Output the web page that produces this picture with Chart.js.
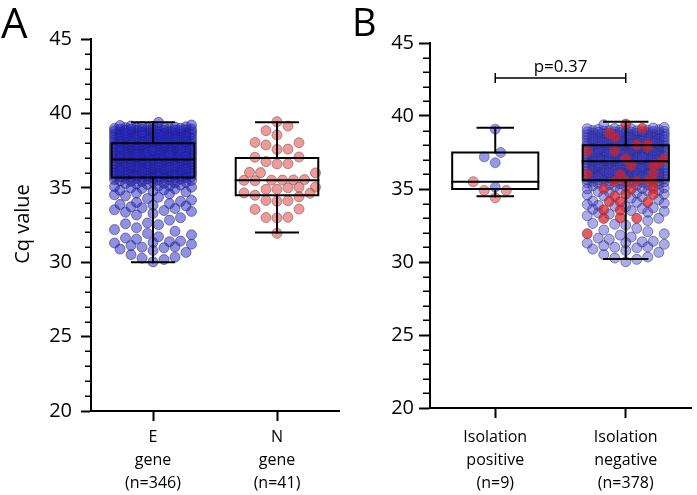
<!DOCTYPE html>
<html>
<head>
<meta charset="utf-8">
<script src="https://cdn.jsdelivr.net/npm/chart.js@4"></script>
<style>
  html, body { margin: 0; padding: 0; background: #fff; }
  #wrap { position: relative; width: 697px; height: 495px; overflow: hidden; }
  #panelA { position: absolute; left: 0; top: 0; width: 345px; height: 495px; }
  #panelB { position: absolute; left: 345px; top: 0; width: 352px; height: 495px; }
</style>
</head>
<body>
<div id="wrap">
  <canvas id="panelA" width="345" height="495"></canvas>
  <canvas id="panelB" width="352" height="495"></canvas>
</div>
<script>
const FONT = "'Open Sans', 'DejaVu Sans', sans-serif";

// Cq values, E gene (n=346)
const geneE = [
  30.02, 30.18, 30.27, 30.34, 30.51, 30.66, 30.79, 30.88, 30.97, 31.01, 31.04, 31.12,
  31.21, 31.29, 31.33, 31.38, 31.42, 31.55, 31.63, 31.71, 31.84, 31.93,
  32.08, 32.19, 32.31, 32.52, 32.58, 32.64, 32.83, 32.99,
  33.17, 33.28, 33.36, 33.41, 33.47, 33.52, 33.61, 33.66, 33.72, 33.78, 33.83, 33.88, 33.94, 34.02,
  34.09, 34.17, 34.28, 34.37, 34.46, 34.53, 34.59, 34.64, 34.72, 34.78, 34.83, 34.87, 34.92, 34.96, 35.01, 35.04,
  35.08, 35.12, 35.15, 35.19, 35.22, 35.26, 35.29, 35.31, 35.34, 35.37, 35.39, 35.42, 35.44, 35.47,
  35.49, 35.51, 35.53, 35.56, 35.58, 35.60, 35.62, 35.64, 35.66, 35.67, 35.69, 35.70, 35.71,
  35.73, 35.75, 35.78, 35.78, 35.81, 35.84, 35.85, 35.89, 35.90, 35.92,
  35.97, 35.98, 36.01, 36.03, 36.06, 36.06, 36.09, 36.12, 36.14, 36.15,
  36.18, 36.23, 36.24, 36.26, 36.29, 36.30, 36.35, 36.37, 36.39, 36.40,
  36.44, 36.46, 36.48, 36.51, 36.54, 36.55, 36.58, 36.60, 36.64, 36.67,
  36.70, 36.71, 36.75, 36.78, 36.80, 36.83, 36.86, 36.89, 35.74, 35.80,
  35.87, 35.94, 36.00, 36.08, 36.16, 36.21, 36.32, 36.41, 36.50, 36.62,
  36.73, 36.85, 35.77, 35.83, 35.96, 36.04, 36.11, 36.19, 36.27, 36.34,
  36.43, 36.53, 36.59, 36.69, 36.77, 36.88, 35.86, 35.99, 36.13, 36.25,
  36.38, 36.47, 36.57, 36.66, 36.74, 36.82,
  36.91, 36.92, 36.95, 36.97, 37.00, 37.02, 37.05, 37.06, 37.09, 37.13,
  37.14, 37.17, 37.20, 37.22, 37.25, 37.27, 37.29, 37.33, 37.35, 37.36,
  37.40, 37.43, 37.44, 37.47, 37.50, 37.52, 37.55, 37.58, 37.59, 37.63,
  37.65, 37.68, 37.71, 37.72, 37.76, 37.78, 37.81, 37.84, 37.86, 37.89,
  37.91, 37.94, 37.96, 37.99, 36.93, 36.99, 37.04, 37.11, 37.18, 37.24,
  37.31, 37.38, 37.45, 37.53, 37.61, 37.67, 37.74, 37.80, 37.87, 37.93,
  37.98, 36.94, 37.01, 37.08, 37.15, 37.21, 37.28, 37.34, 37.41, 37.48,
  37.56, 37.62, 37.70, 37.77, 37.83, 37.90, 37.97, 36.96, 37.10, 37.23,
  37.37, 37.49, 37.60, 37.73, 37.85, 37.95, 37.19,
  38.02, 38.04, 38.07, 38.10, 38.12, 38.15, 38.18, 38.21, 38.24, 38.26,
  38.29, 38.32, 38.35, 38.37, 38.40, 38.43, 38.46, 38.48, 38.51, 38.54,
  38.57, 38.59, 38.62, 38.65, 38.68, 38.70, 38.73, 38.76, 38.79, 38.81,
  38.84, 38.87, 38.90, 38.92, 38.95, 38.98, 39.01, 39.04, 39.08, 39.12,
  38.05, 38.13, 38.19, 38.27, 38.33, 38.41, 38.49, 38.55, 38.63, 38.71,
  38.77, 38.85, 38.91, 38.97, 39.03, 39.10, 38.09, 38.16, 38.23, 38.31,
  38.38, 38.45, 38.53, 38.60, 38.67, 38.74, 38.82, 38.88, 38.94, 39.00,
  39.06, 39.15, 38.11, 38.28, 38.44, 38.58, 38.72, 38.86, 38.99, 39.18,
  39.22, 38.34, 38.66, 38.93, 39.13, 39.40
];

// Cq values, N gene (n=41)
const geneN = [
  39.44, 38.84, 39.15, 38.55, 38.03, 37.88, 38.05, 37.58, 37.60, 37.05,
  37.07, 36.76, 36.60, 36.62, 36.02, 36.00, 36.04, 35.52, 35.50, 35.55,
  35.48, 35.53, 35.51, 35.03, 34.90, 35.05, 34.90, 35.00, 34.63, 34.50,
  34.65, 34.40, 34.13, 34.10, 34.15, 33.55, 33.57, 33.00, 33.02, 32.98,
  31.94
];

// samples with a positive isolation (n=9), split by gene
const isoPosE = [39.10, 37.50, 37.20, 36.80, 35.12];
const isoPosN = [35.50, 34.90, 34.90, 34.40];

const labelsA = [["E", "gene", "(n=346)"], ["N", "gene", "(n=41)"]];
const labelsB = [["Isolation", "positive", "(n=9)"], ["Isolation", "negative", "(n=378)"]];
const yTicks = [20, 25, 30, 35, 40, 45];

// box plot summaries
const boxMinA = [30.0, 32.0];
const boxQ1A  = [35.7, 34.5];
const boxMedA = [36.9, 35.5];
const boxQ3A  = [38.0, 37.0];
const boxMaxA = [39.4, 39.4];

const boxMinB = [34.5, 30.2];
const boxQ1B  = [35.0, 35.6];
const boxMedB = [35.5, 36.9];
const boxQ3B  = [37.5, 38.0];
const boxMaxB = [39.2, 39.6];

const pText = "p=0.37";

function without(list, remove) {
  const out = list.slice();
  remove.forEach(v => {
    const i = out.indexOf(v);
    if (i >= 0) out.splice(i, 1);
  });
  return out;
}
const isoNegE = without(geneE, isoPosE);
const isoNegN = without(geneN, isoPosN);

// beeswarm placement (deterministic), done in pixels then mapped back through the x scale
const DOT = 10.5;
const COL_PX = 11;
const CANDS = [0, 0.5, 1, 1.5, 2, 2.5, 3, 3.5];

function layoutSwarm(chart) {
  const xs = chart.scales.x, ys = chart.scales.y;
  const pxX = xs.getPixelForValue(2) - xs.getPixelForValue(1);
  const pxY = ys.getPixelForValue(20) - ys.getPixelForValue(21);
  const byCat = {};
  chart.data.datasets.forEach(ds => {
    if (!ds.swarm) return;
    ds.data = ds.data.map(p => ({ x: p.x, y: p.y }));
    ds.data.forEach(p => { (byCat[ds.swarm] = byCat[ds.swarm] || []).push(p); });
  });
  Object.keys(byCat).forEach(cat => {
    const pts = byCat[cat].slice().sort((a, b) => a.y - b.y);
    const placed = [];
    pts.forEach((pt, i) => {
      const py = pt.y * pxY;
      const sign = i % 2 ? 1 : -1;
      let best = 0, bestD = -1;
      for (let k = 0; k < CANDS.length * 2 - 1; k++) {
        const step = CANDS[Math.ceil(k / 2)];
        const c = k === 0 ? 0 : (k % 2 ? sign : -sign) * step;
        const px = c * COL_PX;
        let minD = Infinity;
        for (const q of placed) {
          const dy = q.py - py;
          if (Math.abs(dy) >= DOT) continue;
          const d = Math.hypot(q.px - px, dy);
          if (d < minD) minD = d;
        }
        if (minD >= DOT) { best = c; break; }
        if (minD > bestD) { bestD = minD; best = c; }
      }
      placed.push({ px: best * COL_PX, py });
      pt.x = +cat + best * COL_PX / pxX;
    });
  });
}

function dots(values, cat, fill, stroke, order) {
  return {
    type: 'scatter',
    swarm: cat,
    data: values.map(v => ({ x: cat, y: v })),
    backgroundColor: fill,
    borderColor: stroke,
    borderWidth: 1,
    pointRadius: 5,
    pointHoverRadius: 5,
    order: order
  };
}

function boxes(mins, q1s, meds, q3s, maxs, halfW, capW) {
  const out = [];
  const seg = pts => ({
    type: 'scatter', showLine: true, data: pts,
    borderColor: '#000', borderWidth: 2, pointRadius: 0,
    borderJoinStyle: 'miter', borderCapStyle: 'square', order: 1
  });
  mins.forEach((_, i) => {
    const c = i + 1;
    out.push(seg([
      { x: c - halfW, y: q1s[i] }, { x: c + halfW, y: q1s[i] },
      { x: c + halfW, y: q3s[i] }, { x: c - halfW, y: q3s[i] },
      { x: c - halfW, y: q1s[i] }
    ]));
    out.push(seg([{ x: c - halfW, y: meds[i] }, { x: c + halfW, y: meds[i] }]));
    out.push(seg([{ x: c, y: q3s[i] }, { x: c, y: maxs[i] }]));
    out.push(seg([{ x: c, y: mins[i] }, { x: c, y: q1s[i] }]));
    out.push(seg([{ x: c - capW[i], y: maxs[i] }, { x: c + capW[i], y: maxs[i] }]));
    out.push(seg([{ x: c - capW[i], y: mins[i] }, { x: c + capW[i], y: mins[i] }]));
  });
  return out;
}

const decor = {
  id: 'decor',
  afterDraw(chart, args, opts) {
    const ctx = chart.ctx, ys = chart.scales.y, xs = chart.scales.x;
    ctx.save();
    ctx.strokeStyle = '#000';
    ctx.lineWidth = 1.5;
    for (let v = ys.min; v <= ys.max; v++) {
      if (v % 5 === 0) continue;
      const y = Math.round(ys.getPixelForValue(v)) + 0.25;
      ctx.beginPath();
      ctx.moveTo(ys.right - opts.minorLen, y);
      ctx.lineTo(ys.right, y);
      ctx.stroke();
    }
    ctx.fillStyle = '#000';
    ctx.textAlign = 'left';
    ctx.textBaseline = 'alphabetic';
    ctx.font = opts.letterSize + 'px ' + FONT;
    ctx.fillText(opts.letter, opts.letterX, opts.letterY);
    if (opts.yTitle) {
      ctx.save();
      ctx.translate(opts.yTitleX, opts.yTitleY);
      ctx.rotate(-Math.PI / 2);
      ctx.font = '20px ' + FONT;
      ctx.textAlign = 'center';
      ctx.textBaseline = 'middle';
      ctx.fillText(opts.yTitle, 0, 0);
      ctx.restore();
    }
    if (opts.bracket) {
      const x1 = xs.getPixelForValue(1), x2 = xs.getPixelForValue(2);
      const y = ys.getPixelForValue(opts.bracketY);
      ctx.lineWidth = 1.5;
      ctx.beginPath();
      ctx.moveTo(x1, y); ctx.lineTo(x2, y);
      ctx.moveTo(x1, y - 5); ctx.lineTo(x1, y + 5);
      ctx.moveTo(x2, y - 5); ctx.lineTo(x2, y + 5);
      ctx.stroke();
      ctx.font = '17px ' + FONT;
      ctx.textAlign = 'center';
      ctx.fillText(opts.bracket, (x1 + x2) / 2, y - 6);
    }
    ctx.restore();
  }
};

function panelOptions(labels, yWidth, xHeight, pad, yTick, yPad, xPad, decorOpts) {
  return {
    responsive: false,
    animation: false,
    events: [],
    layout: { padding: pad },
    plugins: { legend: { display: false }, tooltip: { enabled: false }, decor: decorOpts },
    scales: {
      x: {
        type: 'linear', min: 0.5, max: 2.5,
        afterBuildTicks: s => { s.ticks = [{ value: 1 }, { value: 2 }]; },
        afterFit: s => { s.height = xHeight; },
        ticks: {
          callback: v => labels[v - 1],
          font: { family: FONT, size: 16, lineHeight: 1.44 },
          color: '#000', padding: xPad, maxRotation: 0, autoSkip: false
        },
        grid: { drawOnChartArea: false, tickLength: 10, tickWidth: 2, tickColor: '#000' },
        border: { color: '#000', width: 2 }
      },
      y: {
        type: 'linear', min: yTicks[0], max: yTicks[yTicks.length - 1],
        afterBuildTicks: s => { s.ticks = yTicks.map(v => ({ value: v })); },
        afterFit: s => { s.width = yWidth; },
        ticks: { font: { family: FONT, size: 20 }, color: '#000', padding: yPad },
        grid: { drawOnChartArea: false, tickLength: yTick, tickWidth: 2, tickColor: '#000' },
        border: { color: '#000', width: 2 }
      }
    }
  };
}

const chartA = new Chart(document.getElementById('panelA'), {
  type: 'scatter',
  data: {
    datasets: [
      dots(geneE, 1, 'rgba(35,35,200,0.5)', 'rgba(30,30,90,0.5)', 2),
      dots(geneN, 2, 'rgba(225,70,70,0.55)', 'rgba(120,90,90,0.6)', 2),
      ...boxes(boxMinA, boxQ1A, boxMedA, boxQ3A, boxMaxA, 0.333, [0.169, 0.169])
    ]
  },
  options: panelOptions(labelsA, 91, 84, { left: 0, right: 5, top: 39, bottom: 0 }, 10, 9, 5, {
    letter: 'A', letterSize: 42, letterX: 1, letterY: 38, minorLen: 6,
    yTitle: 'Cq value', yTitleX: 23, yTitleY: 224
  }),
  plugins: [decor]
});

const chartB = new Chart(document.getElementById('panelB'), {
  type: 'scatter',
  data: {
    datasets: [
      dots(isoPosE, 1, 'rgba(45,45,215,0.5)', 'rgba(70,70,110,0.5)', 3),
      dots(isoNegE, 2, 'rgba(55,55,205,0.42)', 'rgba(40,40,95,0.5)', 3),
      dots(isoPosN, 1, 'rgba(225,70,70,0.55)', 'rgba(120,90,90,0.6)', 2),
      dots(isoNegN, 2, 'rgba(215,30,45,0.72)', 'rgba(110,60,60,0.6)', 2),
      ...boxes(boxMinB, boxQ1B, boxMedB, boxQ3B, boxMaxB, 0.33, [0.136, 0.166])
    ]
  },
  options: panelOptions(labelsB, 85, 87, { left: 0, right: 2, top: 43, bottom: 0 }, 11, 5, 8, {
    letter: 'B', letterSize: 38, letterX: 7, letterY: 36, minorLen: 7,
    bracket: pText, bracketY: 42.6
  }),
  plugins: [decor]
});

[chartA, chartB].forEach(ch => { layoutSwarm(ch); ch.update('none'); });
</script>
</body>
</html>
